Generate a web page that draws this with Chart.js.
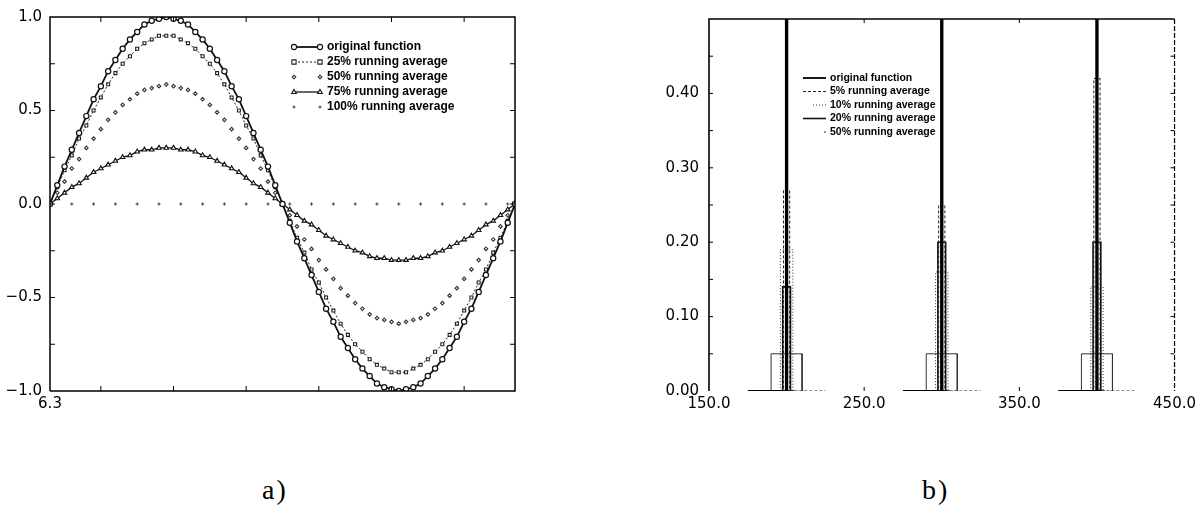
<!DOCTYPE html>
<html>
<head>
<meta charset="utf-8">
<script src="https://cdn.jsdelivr.net/npm/chart.js@4.4.1/dist/chart.umd.min.js"></script>
<style>
  body { margin: 0; background: #fff; width: 1200px; height: 524px; position: relative; overflow: hidden; }
  canvas { position: absolute; top: 0; }
  #c1 { left: 0; }
  #c2 { left: 640px; }
  .cap { position: absolute; top: 474px; font: 28px 'Liberation Serif', serif; letter-spacing: 2px; color: #000; }
</style>
</head>
<body>
<canvas id="c1" width="530" height="420"></canvas>
<canvas id="c2" width="560" height="420"></canvas>
<div class="cap" style="left:262px">a)</div>
<div class="cap" style="left:922px">b)</div>
<script>
// ---- chart a) : sine and its running averages
const xA = [6.3, 6.4, 6.5, 6.6, 6.7, 6.8, 6.9, 7.0, 7.1, 7.2, 7.3, 7.4, 7.5, 7.6, 7.7, 7.8, 7.9,
  8.0, 8.1, 8.2, 8.3, 8.4, 8.5, 8.6, 8.7, 8.8, 8.9, 9.0, 9.1, 9.2, 9.3, 9.4, 9.5,
  9.6, 9.7, 9.8, 9.9, 10.0, 10.1, 10.2, 10.3, 10.4, 10.5, 10.6, 10.7, 10.8, 10.9, 11.0, 11.1,
  11.2, 11.3, 11.4, 11.5, 11.6, 11.7, 11.8, 11.9, 12.0, 12.1, 12.2, 12.3, 12.4, 12.5, 12.6, 12.7];
const origA = [0, .10, .20, .29, .38, .47, .56, .63, .71, .77, .83, .88, .92, .96, .98, .99, 1.00,
  .99, .98, .96, .92, .88, .83, .77, .71, .63, .56, .47, .38, .29, .20, .10, 0,
  -.10, -.20, -.29, -.38, -.47, -.56, -.63, -.71, -.77, -.83, -.88, -.92, -.96, -.98, -.99, -1.00,
  -.99, -.98, -.96, -.92, -.88, -.83, -.77, -.71, -.63, -.56, -.47, -.38, -.29, -.20, -.10, 0];
const avg25 = [0, .09, .18, .26, .35, .42, .50, .57, .64, .70, .75, .79, .83, .86, .88, .90, .90,
  .90, .88, .86, .83, .79, .75, .70, .64, .57, .50, .42, .35, .26, .18, .09, 0,
  -.09, -.18, -.26, -.35, -.42, -.50, -.57, -.64, -.70, -.75, -.79, -.83, -.86, -.88, -.90, -.90,
  -.90, -.88, -.86, -.83, -.79, -.75, -.70, -.64, -.57, -.50, -.42, -.35, -.26, -.18, -.09, 0];
const avg50 = [0, .06, .12, .19, .24, .30, .35, .40, .45, .49, .53, .56, .59, .61, .62, .63, .64,
  .63, .62, .61, .59, .56, .53, .49, .45, .40, .35, .30, .24, .19, .12, .06, 0,
  -.06, -.12, -.19, -.24, -.30, -.35, -.40, -.45, -.49, -.53, -.56, -.59, -.61, -.62, -.63, -.64,
  -.63, -.62, -.61, -.59, -.56, -.53, -.49, -.45, -.40, -.35, -.30, -.24, -.19, -.12, -.06, 0];
const avg75 = [0, .03, .06, .09, .11, .14, .17, .19, .21, .23, .25, .26, .28, .29, .29, .30, .30,
  .30, .29, .29, .28, .26, .25, .23, .21, .19, .17, .14, .11, .09, .06, .03, 0,
  -.03, -.06, -.09, -.11, -.14, -.17, -.19, -.21, -.23, -.25, -.26, -.28, -.29, -.29, -.30, -.30,
  -.30, -.29, -.29, -.28, -.26, -.25, -.23, -.21, -.19, -.17, -.14, -.11, -.09, -.06, -.03, 0];
const x100 = [6.3, 6.6, 6.9, 7.2, 7.5, 7.8, 8.1, 8.4, 8.7, 9.0, 9.3, 9.6, 9.9, 10.2, 10.5,
  10.8, 11.1, 11.4, 11.7, 12.0, 12.3, 12.6];
const avg100 = [0, 0, 0, 0, 0, 0, 0, 0, 0, 0, 0, 0, 0, 0, 0, 0, 0, 0, 0, 0, 0, 0];
const xTicksA = [6.3, 7, 8, 9, 10, 11, 12];

// ---- chart b) : spikes and their running averages (null = gap)
const origX = [175, 199.5, 199.5, 200.5, 200.5, 202, 250, 275, 299.5, 299.5, 300.5, 300.5, 302, 350, 375, 399.5, 399.5, 400.5, 400.5, 402];
const origY = [0, 0, 1, 1, 0, 0, null, 0, 0, 1, 1, 0, 0, null, 0, 0, 1, 1, 0, 0];
const avg5X = [190, 198, 198, 202, 202, 225, 250, 290, 298, 298, 302, 302, 325, 350, 390, 398, 398, 402, 402, 425];
const avg5Y = [0, 0, .27, .27, 0, 0, null, 0, 0, .25, .25, 0, 0, null, 0, 0, .42, .42, 0, 0];
const avg10X = [192, 196, 196, 204, 204, 210, 250, 292, 296, 296, 304, 304, 310, 350, 392, 396, 396, 404, 404, 410];
const avg10Y = [0, 0, .19, .19, 0, 0, null, 0, 0, .16, .16, 0, 0, null, 0, 0, .14, .14, 0, 0];
const avg20X = [195, 197.5, 197.5, 202.5, 202.5, 205, 250, 295, 297.5, 297.5, 302.5, 302.5, 305, 350, 395, 397.5, 397.5, 402.5, 402.5, 405];
const avg20Y = [0, 0, .14, .14, 0, 0, null, 0, 0, .2, .2, 0, 0, null, 0, 0, .2, .2, 0, 0];
const avg50X = [190, 190, 210, 210, 250, 290, 290, 310, 310, 350, 390, 390, 410, 410];
const avg50Y = [0, .05, .05, 0, null, 0, .05, .05, 0, null, 0, .05, .05, 0];

const pts = (xs, ys) => xs.map((x, i) => ({ x: x, y: ys[i] }));
const minus = (s) => s.replace('-', '\u2212');

function mark(ctx, style, x, y, r) {
  ctx.beginPath();
  if (style === 'circle') ctx.arc(x, y, r, 0, Math.PI * 2);
  else if (style === 'rect') ctx.rect(x - r, y - r, 2 * r, 2 * r);
  else if (style === 'rectRot') { ctx.moveTo(x, y - r); ctx.lineTo(x + r, y); ctx.lineTo(x, y + r); ctx.lineTo(x - r, y); ctx.closePath(); }
  else if (style === 'triangle') { ctx.moveTo(x, y - r); ctx.lineTo(x + r * 0.9, y + r * 0.6); ctx.lineTo(x - r * 0.9, y + r * 0.6); ctx.closePath(); }
  else if (style === 'cross') { ctx.moveTo(x - r, y); ctx.lineTo(x + r, y); ctx.moveTo(x, y - r); ctx.lineTo(x, y + r); }
  if (style !== 'cross') { ctx.fillStyle = '#fff'; ctx.fill(); }
  ctx.stroke();
}

// box frame with inward ticks
const frame = {
  id: 'frame',
  afterDraw(chart, args, o) {
    const { ctx, chartArea: a, scales } = chart;
    ctx.save();
    ctx.strokeStyle = '#000';
    ctx.lineWidth = o.width;
    ctx.beginPath();
    ctx.moveTo(a.left, a.bottom); ctx.lineTo(a.left, a.top); ctx.lineTo(a.right, a.top);
    if (!o.rightDash) ctx.lineTo(a.right, a.bottom);
    if (o.bottom) ctx.lineTo(a.left, a.bottom);
    ctx.stroke();
    if (o.rightDash) {
      ctx.lineWidth = 1.2;
      ctx.setLineDash(o.rightDash);
      ctx.beginPath(); ctx.moveTo(a.right, a.top); ctx.lineTo(a.right, a.bottom); ctx.stroke();
      ctx.setLineDash([]);
    }
    ctx.lineWidth = 1;
    ctx.beginPath();
    scales.x.ticks.forEach(t => {
      const p = scales.x.getPixelForValue(t.value);
      if (p <= a.left + 1 || p >= a.right - 1) return;
      ctx.moveTo(p, a.bottom); ctx.lineTo(p, a.bottom - o.len);
      ctx.moveTo(p, a.top); ctx.lineTo(p, a.top + o.len);
    });
    scales.y.ticks.forEach(t => {
      const p = scales.y.getPixelForValue(t.value);
      if (p <= a.top + 1 || p >= a.bottom - 1) return;
      ctx.moveTo(a.left, p); ctx.lineTo(a.left + o.len, p);
      ctx.moveTo(a.right, p); ctx.lineTo(a.right - o.len, p);
    });
    ctx.stroke();
    ctx.restore();
  }
};

// legend drawn inside the plot
const keys = {
  id: 'keys',
  afterDraw(chart, args, o) {
    const ctx = chart.ctx;
    ctx.save();
    ctx.font = o.font;
    ctx.textBaseline = 'middle';
    chart.data.datasets.forEach((ds, i) => {
      const y = o.y0 + i * o.dy;
      const x0 = ds.keyFrom || o.x0;
      ctx.strokeStyle = ds.borderColor;
      if (ds.showLine !== false) {
        ctx.lineWidth = ds.borderWidth;
        ctx.setLineDash(ds.borderDash || []);
        ctx.beginPath();
        ctx.moveTo(x0, y); ctx.lineTo(o.x1, y);
        ctx.stroke();
        ctx.setLineDash([]);
      }
      if (ds.pointRadius > 0) {
        ctx.lineWidth = 1.1;
        ctx.strokeStyle = ds.pointBorderColor || ds.borderColor;
        mark(ctx, ds.pointStyle, x0, y, ds.pointRadius);
        mark(ctx, ds.pointStyle, o.x1, y, ds.pointRadius);
      }
      ctx.fillStyle = '#000';
      ctx.fillText(ds.label, o.tx, y);
    });
    ctx.restore();
  }
};

Chart.defaults.font.family = "'DejaVu Sans', sans-serif";
Chart.defaults.font.size = 15;
Chart.defaults.color = '#000';

new Chart(document.getElementById('c1'), {
  type: 'line',
  data: {
    datasets: [
      { label: 'original function', data: pts(xA, origA), borderColor: '#111', borderWidth: 1.8,
        pointStyle: 'circle', pointRadius: 2.6, pointBorderWidth: 1.2, pointBackgroundColor: '#fff', pointBorderColor: '#111' },
      { label: '25% running average', data: pts(xA, avg25), borderColor: '#222', borderWidth: 1, borderDash: [2, 2],
        pointStyle: 'rect', pointRadius: 2.1, pointBorderWidth: 1.1, pointBackgroundColor: '#fff', pointBorderColor: '#222' },
      { label: '50% running average', data: pts(xA, avg50), borderColor: '#333', showLine: false,
        pointStyle: 'rectRot', pointRadius: 1.8, pointBorderWidth: 1.1, pointBackgroundColor: '#fff', pointBorderColor: '#333' },
      { label: '75% running average', data: pts(xA, avg75), borderColor: '#111', borderWidth: 1.3,
        pointStyle: 'triangle', pointRadius: 2.6, pointBorderWidth: 1.1, pointBackgroundColor: '#fff', pointBorderColor: '#111' },
      { label: '100% running average', data: pts(x100, avg100), borderColor: '#444', showLine: false,
        pointStyle: 'cross', pointRadius: 1.6, pointBorderWidth: 1, pointBorderColor: '#444' }
    ]
  },
  options: {
    responsive: false, animation: false, devicePixelRatio: 1,
    layout: { padding: { top: 13, right: 15, left: 0, bottom: 0 } },
    elements: { line: { tension: 0 } },
    plugins: {
      legend: { display: false }, tooltip: { enabled: false },
      frame: { width: 1.5, len: 5, bottom: true },
      keys: { x0: 294, x1: 320, tx: 327, y0: 47, dy: 15, font: "bold 12px 'Liberation Sans', sans-serif" }
    },
    scales: {
      x: { type: 'linear', min: 6.3, max: 12.7,
        afterBuildTicks: s => { s.ticks = xTicksA.map(v => ({ value: v })); },
        afterFit: s => { s.height = 29; },
        grid: { display: false, drawTicks: false }, border: { display: false },
        ticks: { padding: 4, autoSkip: false, maxRotation: 0, callback: v => (v === 6.3 ? '6.3' : '') } },
      y: { min: -1, max: 1,
        afterFit: s => { s.width = 50; },
        grid: { display: false, drawTicks: false }, border: { display: false },
        ticks: { stepSize: 0.25, padding: 8, autoSkip: false,
          callback: v => (Math.abs(v * 2 - Math.round(v * 2)) < 1e-6 ? minus(v.toFixed(1)) : '') } }
    }
  },
  plugins: [frame, keys]
});

new Chart(document.getElementById('c2'), {
  type: 'line',
  data: {
    datasets: [
      { label: 'original function', data: pts(origX, origY), borderColor: '#000', borderWidth: 1.8, pointRadius: 0 },
      { label: '5% running average', data: pts(avg5X, avg5Y), borderColor: '#222', borderWidth: 1, borderDash: [3, 2], pointRadius: 0 },
      { label: '10% running average', data: pts(avg10X, avg10Y), borderColor: '#333', borderWidth: 1, borderDash: [1, 2], pointRadius: 0, keyFrom: 173 },
      { label: '20% running average', data: pts(avg20X, avg20Y), borderColor: '#111', borderWidth: 1.6, pointRadius: 0 },
      { label: '50% running average', data: pts(avg50X, avg50Y), borderColor: '#333', borderWidth: 1, pointRadius: 0, keyFrom: 184 }
    ]
  },
  options: {
    responsive: false, animation: false, devicePixelRatio: 1,
    layout: { padding: { top: 14, right: 23, left: 0, bottom: 0 } },
    elements: { line: { tension: 0, borderJoinStyle: 'miter' } },
    plugins: {
      legend: { display: false }, tooltip: { enabled: false },
      frame: { width: 1.6, len: 4, bottom: false, rightDash: [5, 2] },
      keys: { x0: 163, x1: 186, tx: 190, y0: 78, dy: 13.5, font: "bold 10.5px 'Liberation Sans', sans-serif" }
    },
    scales: {
      x: { type: 'linear', min: 150, max: 450,
        afterFit: s => { s.height = 29; },
        grid: { display: false, drawTicks: false }, border: { display: false },
        ticks: { stepSize: 100, padding: 4, maxRotation: 0, callback: v => v.toFixed(1) } },
      y: { min: 0, max: 0.5,
        afterFit: s => { s.width = 69; },
        grid: { display: false, drawTicks: false }, border: { display: false },
        ticks: { stepSize: 0.05, padding: 10, autoSkip: false,
          callback: v => { const r = Math.round(v * 100); return (r % 10 === 0 && r < 50) ? v.toFixed(2) : ''; } } }
    }
  },
  plugins: [frame, keys]
});
</script>
</body>
</html>
